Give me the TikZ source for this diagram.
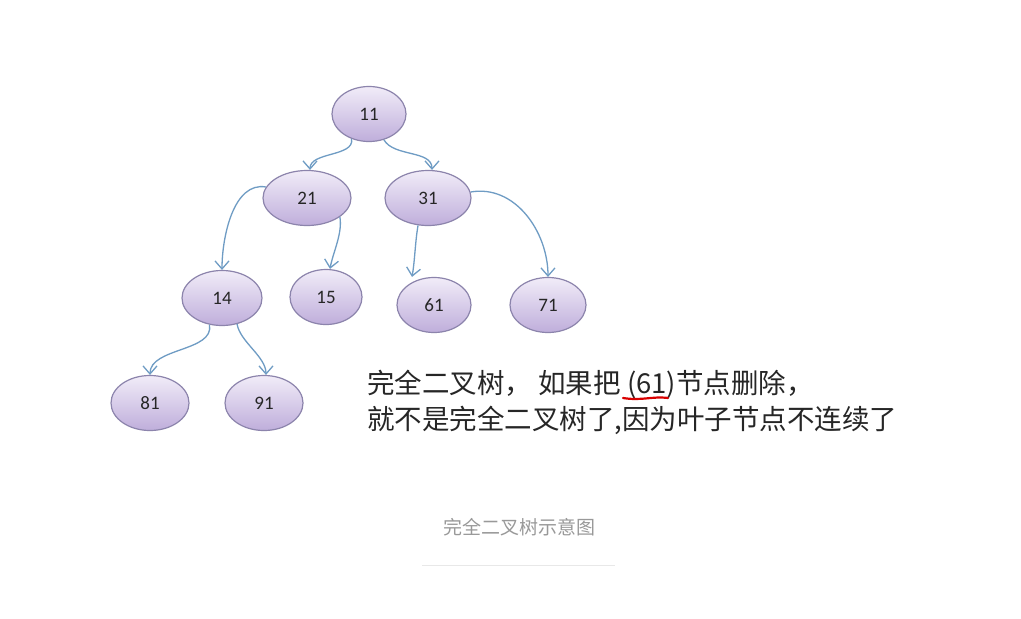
\documentclass[tikz,border=0pt]{standalone}
\usepackage{fontspec}
\newfontfamily\cjk{Noto Sans CJK SC}
\newfontfamily\numfont{Carlito}
\usetikzlibrary{arrows.meta}
\definecolor{edgeblue}{HTML}{6F9CC4}
\definecolor{nodeborder}{HTML}{8C84AC}
\definecolor{nodetop}{HTML}{F1ECF8}
\definecolor{nodebot}{HTML}{BFAEDB}
\definecolor{captiongray}{HTML}{999999}
\definecolor{rulegray}{HTML}{E8E8E8}
\tikzset{
  treenode/.style={ellipse, draw=nodeborder, line width=1.2pt, top color=nodetop, bottom color=nodebot,
    minimum width=#1, minimum height=55pt, inner sep=0pt, font=\numfont\fontsize{19}{19}\selectfont, text=black!85},
  treenode/.default=76pt,
  edge/.style={draw=edgeblue, line width=1.3pt, -{Straight Barb[length=8pt,width=14pt,line width=1.3pt]}},
  bodytext/.style={font=\cjk\fontsize{27.5}{30}\selectfont, text=black!85, anchor=west, inner sep=0pt},
}
\usetikzlibrary{shapes.geometric}
\begin{document}
\begin{tikzpicture}[x=1pt,y=-1pt]
\useasboundingbox[fill=white] (0,0) rectangle (1021,619);
\node[treenode=74pt] (n11) at (369,114) {11};
\node[treenode=88pt] (n21) at (307,198) {21};
\node[treenode=86pt] (n31) at (428,198) {31};
\node[treenode=80pt] (n14) at (222,298) {14};
\node[treenode=72pt] (n15) at (326,297) {15};
\node[treenode=74pt] (n61) at (434,305) {61};
\node[treenode=76pt] (n71) at (548,305) {71};
\node[treenode=78pt] (n81) at (150,403) {81};
\node[treenode=78pt] (n91) at (264,403) {91};
\draw[edge] (n11.235) to[out=-80,in=90,looseness=0.9] ([xshift=3pt]n21.north);
\draw[edge] (n11.300) to[out=-60,in=90,looseness=0.9] ([xshift=4pt]n31.north);
\draw[edge] (n21.165) to[out=170,in=90,looseness=0.9] (n14.north);
\draw[edge] (n21.330) to[out=-80,in=80,looseness=0.8] ([xshift=4pt]n15.north);
\draw[edge] (n31.250) to[out=-100,in=80,looseness=0.8] ([xshift=-22pt]n61.north);
\draw[edge] (n31.8) to[out=10,in=90,looseness=1] (n71.north);
\draw[edge] (n14.245) to[out=-80,in=90,looseness=0.9] (n81.north);
\draw[edge] (n14.300) to[out=-80,in=90,looseness=0.8] ([xshift=2pt]n91.north);
\node[bodytext] (t1) at (367,384) {完全二叉树， 如果把 (61)节点删除，};
\node[bodytext] (t2) at (367,420) {就不是完全二叉树了,因为叶子节点不连续了};
\draw[red!85!black, line width=2.2pt, line cap=round] (623,398) .. controls (642,401) and (652,396) .. (668,398);
\node[font=\cjk\fontsize{19}{22}\selectfont, text=captiongray, inner sep=0pt] (cap) at (519,527) {完全二叉树示意图};
\coordinate (rl) at (422,565);
\coordinate (rr) at (615,565);
\draw[rulegray, line width=1pt] (rl) -- (rr);
\end{tikzpicture}
\end{document}
